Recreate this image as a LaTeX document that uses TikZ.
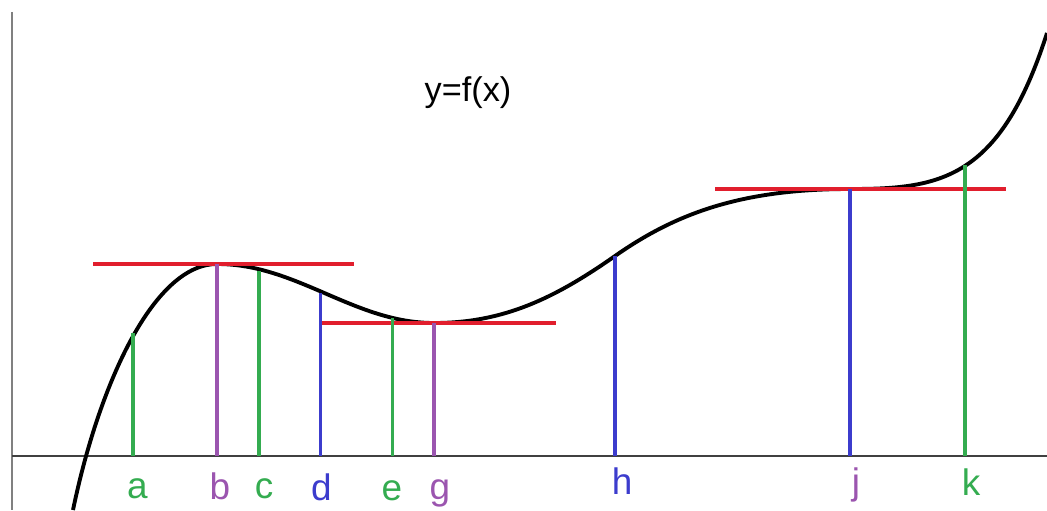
\documentclass[tikz,border=0pt]{standalone}
\usepackage{fontspec}
\setmainfont{Liberation Sans}

\definecolor{tgreen}{RGB}{52,172,80}
\definecolor{tpurple}{RGB}{155,85,175}
\definecolor{tblue}{RGB}{60,60,205}
\definecolor{tred}{RGB}{225,30,45}

\newcommand{\var}{
\def\xax{456}   % height of the x axis (pixels, counted downwards)
\def\yax{12}    % position of the y axis
}
\newcommand{\scl}{0.02cm}

\tikzset{
  lbl/.style={anchor=base,font=\fontsize{21}{24}\selectfont},
  tangent/.style={draw=tred,line width=2.2pt},
  drop/.style={line width=1.9pt},
}

\begin{document}
\begin{tikzpicture}[x=\scl,y=-\scl]
  \var
  \useasboundingbox (0,0) rectangle (1047,510);
  % axes
  \draw[gray,line width=1.4pt] (\yax,12) -- (\yax,510);
  \draw[black!75,line width=0.8pt] (\yax,\xax) -- (1047,\xax);
  \node[anchor=base,font=\fontsize{19.5}{22}\selectfont] (title) at (468,101) {y=f(x)};
  % the curve
  \draw[line width=2.2pt] (73,510) .. controls (100,380) and (155,264) .. (217,264)
    .. controls (297,264) and (354,323) .. (434,323)
    .. controls (504,323) and (555,298) .. (615,256)
    .. controls (675,214) and (740,189) .. (850,189)
    .. controls (940,189) and (1000,180) .. (1047,33);
  % horizontal tangents
  \draw[tangent] (93,264) -- (354,264);
  \draw[tangent] (322,323) -- (556,323);
  \draw[tangent] (715,189) -- (1006,189);
  % drops to the axis
  \foreach \n/\x/\y/\c/\lx/\ly in {a/133/333/tgreen/137.5/498, b/217/264/tpurple/220/499,
      c/259/271/tgreen/264/498, d/320.5/293/tblue/321.5/500, e/392.5/318/tgreen/392/500,
      g/434/323/tpurple/440/499, h/615/256/tblue/622/494, k/965/165/tgreen/971/495}{
    \coordinate (p\n) at (\x,\y);
    \coordinate (q\n) at (\x,\xax);
    \draw[drop,\c] (q\n) -- (p\n);
    \node[lbl,text=\c] (l\n) at (\lx,\ly) {\n};
  }
  % j: two lines on top of each other
  \coordinate (pj) at (850,189);
  \coordinate (qj) at (850,\xax);
  \draw[tpurple,line width=2.6pt,xshift=-1] (qj) -- (pj);
  \draw[tblue,line width=1.8pt,xshift=1] (qj) -- (pj);
  \node[lbl,text=tpurple] (lj) at (856,494) {j};
\end{tikzpicture}
\end{document}
